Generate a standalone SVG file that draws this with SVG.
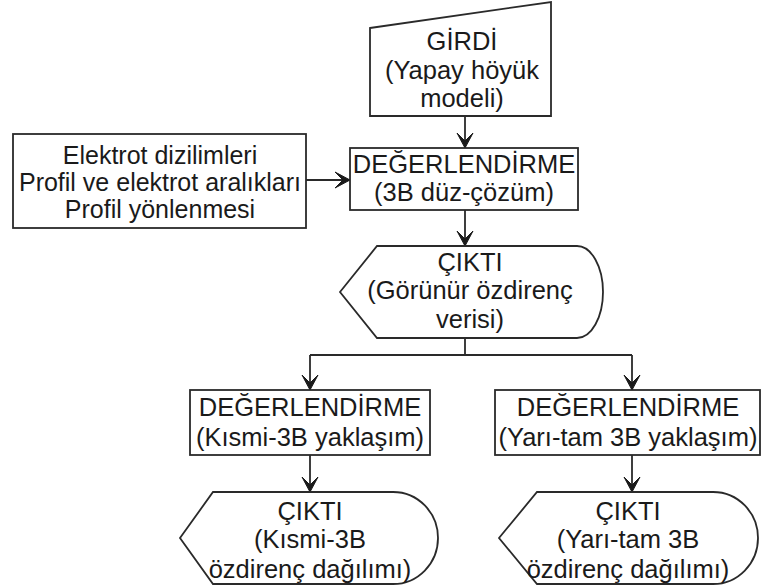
<svg xmlns="http://www.w3.org/2000/svg" width="762" height="586" viewBox="0 0 762 586">
  <defs>
    <marker id="arrow" viewBox="-16 -9 18 18" markerWidth="18" markerHeight="18" refX="0" refY="0" orient="auto" markerUnits="userSpaceOnUse">
      <path d="M0,0 L-15,-8 L-7,0 L-15,8 Z" fill="#1a1a1a" stroke="#1a1a1a" stroke-width="1" stroke-linejoin="round"/>
    </marker>
    <style>
      .shape { fill: #ffffff; stroke: #2a2a2a; stroke-width: 1.8; }
      .edge { fill: none; stroke: #2a2a2a; stroke-width: 1.8; }
      .lbl { font-family: "Liberation Sans", Arial, sans-serif; font-size: 25.5px; fill: #1a1a1a; text-anchor: middle; }
      .small { font-size: 25px; }
    </style>
  </defs>

  <rect width="762" height="586" fill="#ffffff"/>

  <g id="connectors">
    <line class="edge" x1="465" y1="116" x2="465" y2="148" marker-end="url(#arrow)"/>
    <line class="edge" x1="306" y1="180" x2="350" y2="180" marker-end="url(#arrow)"/>
    <line class="edge" x1="465" y1="210" x2="465" y2="246" marker-end="url(#arrow)"/>
    <line class="edge" x1="465" y1="338" x2="465" y2="355"/>
    <line class="edge" x1="310" y1="355" x2="632" y2="355"/>
    <line class="edge" x1="310" y1="355" x2="310" y2="390" marker-end="url(#arrow)"/>
    <line class="edge" x1="632" y1="355" x2="632" y2="390" marker-end="url(#arrow)"/>
    <line class="edge" x1="310" y1="455" x2="310" y2="492" marker-end="url(#arrow)"/>
    <line class="edge" x1="632" y1="455" x2="632" y2="492" marker-end="url(#arrow)"/>
  </g>

  <g id="input">
    <polygon class="shape" points="370,28 551,2 551,116 370,116"/>
    <text class="lbl" x="462" y="50">GİRDİ</text>
    <text class="lbl" x="462" y="79">(Yapay höyük</text>
    <text class="lbl" x="462" y="107">modeli)</text>
  </g>

  <g id="parameters">
    <rect class="shape" x="13" y="134" width="293" height="94"/>
    <text class="lbl small" x="160" y="164">Elektrot dizilimleri</text>
    <text class="lbl small" x="160" y="191">Profil ve elektrot aralıkları</text>
    <text class="lbl small" x="160" y="218">Profil yönlenmesi</text>
  </g>

  <g id="forward">
    <rect class="shape" x="350" y="148" width="228" height="62"/>
    <text class="lbl" x="464" y="173">DEĞERLENDİRME</text>
    <text class="lbl" x="464" y="201">(3B düz-çözüm)</text>
  </g>

  <g id="apparent">
    <path class="shape" d="M340,292 L377,246 L577,246 A26,46 0 0 1 577,338 L377,338 Z"/>
    <text class="lbl" x="470" y="271">ÇIKTI</text>
    <text class="lbl" x="470" y="299">(Görünür özdirenç</text>
    <text class="lbl" x="470" y="328">verisi)</text>
  </g>

  <g id="eval-partial">
    <rect class="shape" x="190" y="390" width="240" height="65"/>
    <text class="lbl" x="310" y="416">DEĞERLENDİRME</text>
    <text class="lbl" x="310" y="446">(Kısmi-3B yaklaşım)</text>
  </g>

  <g id="eval-semi">
    <rect class="shape" x="495" y="390" width="265" height="65"/>
    <text class="lbl" x="628" y="416">DEĞERLENDİRME</text>
    <text class="lbl" x="628" y="446">(Yarı-tam 3B yaklaşım)</text>
  </g>

  <g id="out-partial">
    <path class="shape" d="M180,538 L213,492 L393,492 A45,46 0 0 1 393,584 L213,584 Z"/>
    <text class="lbl" x="310" y="520">ÇIKTI</text>
    <text class="lbl" x="310" y="548">(Kısmi-3B</text>
    <text class="lbl" x="310" y="578">özdirenç dağılımı)</text>
  </g>

  <g id="out-semi">
    <path class="shape" d="M499,538 L537,492 L713,492 A45,46 0 0 1 713,584 L537,584 Z"/>
    <text class="lbl" x="628" y="520">ÇIKTI</text>
    <text class="lbl" x="628" y="548">(Yarı-tam 3B</text>
    <text class="lbl" x="628" y="578">özdirenç dağılımı)</text>
  </g>
</svg>
